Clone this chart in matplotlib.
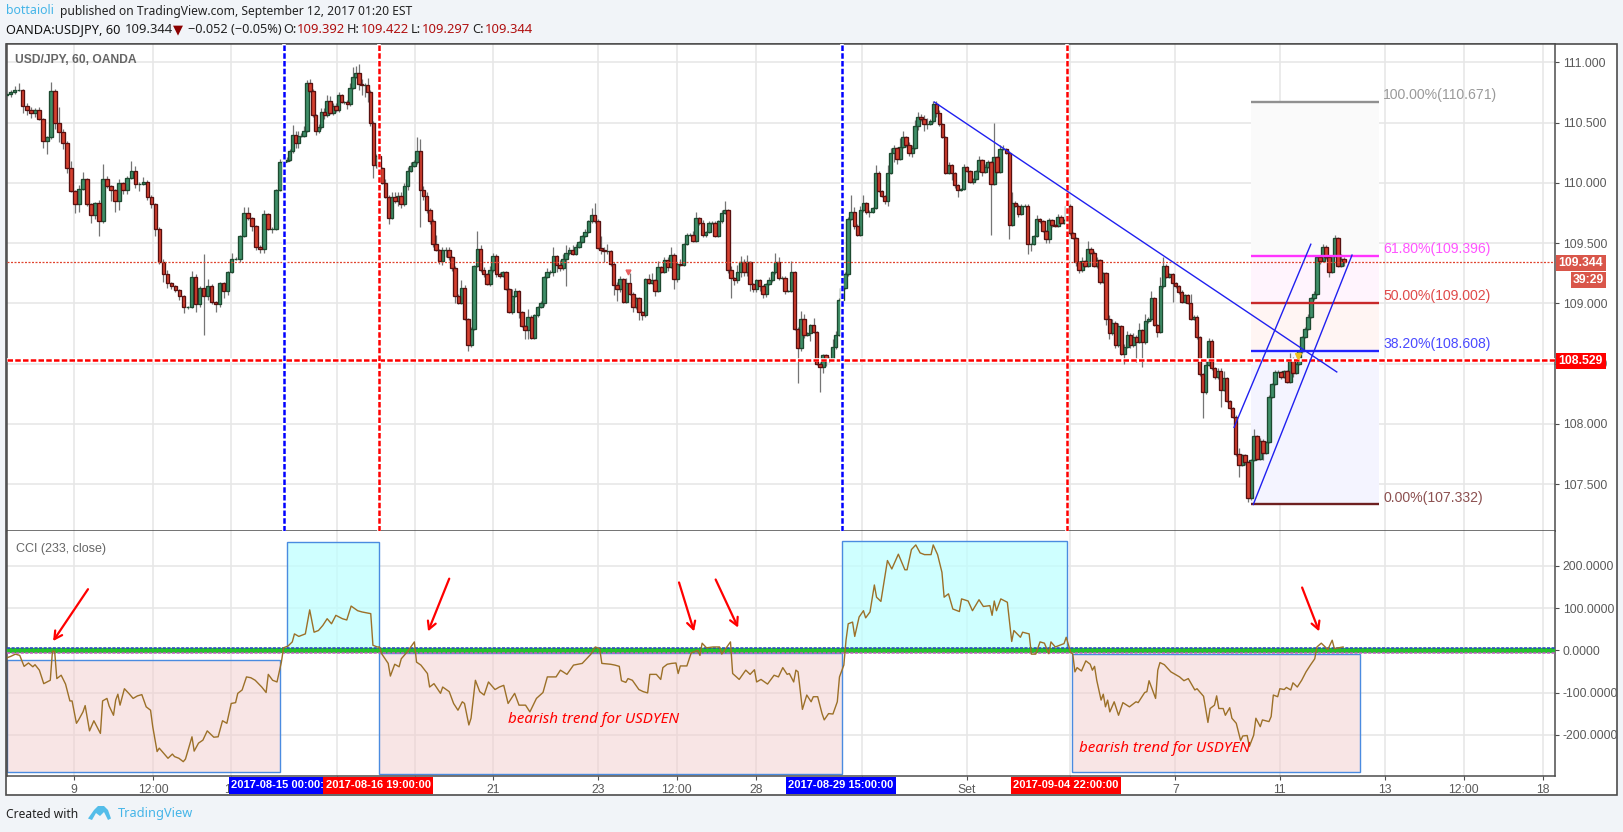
import numpy as np
import matplotlib
matplotlib.use('Agg')
import matplotlib.pyplot as plt
from matplotlib.patches import Rectangle, Polygon

W, H = 1623, 832
plt.rcParams['font.family'] = ['Liberation Sans', 'DejaVu Sans']

# hourly position of the session anchors (the four vertical markers)
seg_edges = [0, 127.2, 170.8, 383.2, 486.4, 613.5]

# closes, upper wick and lower wick (hundredths of a yen), one group per stretch
close_1 = [110.74,110.75,110.77,110.77,110.64,110.60,110.58,110.60,110.53,110.35,
    110.38,110.76,110.50,110.42,110.33,110.12,109.93,109.82,109.95,110.03,
    109.82,109.73,109.83,109.68,110.03,109.97,109.94,109.85,110.00,109.94,
    110.04,110.10,109.99,109.99,110.01,109.88,109.82,109.62,109.34,109.24,
    109.17,109.14,109.11,109.06,108.97,108.97,109.22,108.99,109.13,109.06,
    109.14,109.01,108.99,109.17,109.10,109.26,109.37,109.37,109.56,109.75,
    109.71,109.64,109.47,109.45,109.74,109.62,109.62,109.94,110.17]
up_1 = [2,2,3,6,1,2,3,2,3,1, 1,8,2,13,3,2,6,1,3,6, 1,1,1,3,13,3,1,1,3,1, 2,8,4,2,4,1,2,1,1,3,
    4,1,1,1,1,1,5,2,1,28, 6,2,1,1,1,1,5,1,1,5, 5,1,1,1,3,1,1,1,3]
dn_1 = [2,3,1,1,6,4,4,3,1,6, 11,2,5,8,5,4,1,7,6,1, 1,6,3,12,1,1,9,9,8,3, 3,1,3,6,1,2,3,6,1,6,
    4,2,2,3,5,2,1,6,2,32, 3,2,6,2,6,3,1,1,3,1, 2,4,3,3,3,1,4,1,1]

close_2 = [110.18,110.19,110.26,110.40,110.33,110.39,110.39,110.43,110.83,110.76,
    110.56,110.43,110.46,110.59,110.56,110.68,110.58,110.64,110.60,110.73,
    110.67,110.67,110.65,110.79,110.88,110.91,110.82,110.81,110.81,110.75,
    110.50,110.15,110.22]
up_2 = [2,2,2,8,3,4,2,4,2,3, 2,1,3,3,3,5,4,2,2,2, 1,1,2,4,8,6,8,4,2,6, 2,1,2]
dn_2 = [1,1,1,1,4,4,1,1,1,1, 1,3,2,1,3,1,1,2,1,1, 1,2,4,1,1,1,5,8,10,8, 3,11,3]

close_3 = [110.12,110.00,109.88,109.71,109.88,109.85,109.89,109.82,109.97,110.10,
    110.14,110.17,110.26,109.94,109.89,109.77,109.68,109.49,109.44,109.35,
    109.44,109.44,109.38,109.29,109.06,109.00,109.13,108.87,108.65,108.79,
    109.31,109.45,109.28,109.24,109.16,109.28,109.39,109.24,109.23,109.26,
    109.12,108.93,109.06,109.10,108.93,108.81,108.78,108.89,108.71,108.90,
    108.97,109.00,109.22,109.26,109.26,109.39,109.32,109.29,109.37,109.42,
    109.44,109.41,109.47,109.51,109.56,109.59,109.68,109.73,109.68,109.46,
    109.44,109.43,109.43,109.33,109.15,109.12,109.20,109.01,109.17,109.08,
    108.97,109.04,108.93,108.90,109.20,109.17,109.19,109.10,109.30,109.26,
    109.36,109.30,109.40,109.20,109.33,109.32,109.49,109.57,109.57,109.52,
    109.71,109.67,109.57,109.59,109.67,109.67,109.56,109.68,109.75,109.77,
    109.28,109.21,109.19,109.26,109.34,109.26,109.34,109.16,109.12,109.19,
    109.14,109.08,109.16,109.19,109.26,109.34,109.21,109.21,109.10,109.10,
    109.26,108.79,108.63,108.87,108.74,108.75,108.82,108.76,108.50,108.47,
    108.57,108.54,108.54,108.64,108.74,109.03]
up_3 = [1,1,3,2,4,4,3,3,3,3, 3,2,12,10,3,3,2,2,8,1, 3,3,3,1,2,2,6,2,1,1, 1,15,3,2,1,3,3,2,2,1,
    1,1,6,3,1,1,1,6,1,1, 1,2,1,3,2,8,1,4,4,6, 3,4,2,1,1,3,1,6,10,2, 10,3,6,1,1,3,3,1,4,8,
    1,1,1,1,1,4,6,1,5,1, 2,2,7,2,1,4,1,1,1,3, 5,1,2,1,1,1,1,1,2,8, 1,3,1,6,5,3,6,1,1,1,
    1,1,1,3,1,8,4,2,2,1, 9,1,1,7,4,1,1,6,1,1, 1,1,1,6,3,1]
dn_3 = [1,1,1,5,1,2,4,3,1,3, 1,1,1,31,3,2,2,2,1,2, 3,6,2,2,6,1,1,1,5,1, 1,1,2,2,1,2,2,2,2,1,
    1,1,2,1,5,1,8,8,1,1, 1,1,2,1,2,3,6,2,1,23, 2,1,1,1,1,1,1,1,1,1, 3,9,2,2,8,10,3,1,1,1,
    4,2,7,4,1,1,1,4,1,1, 1,3,1,8,2,1,1,1,1,1, 1,2,2,2,1,1,1,1,1,1, 3,17,4,2,4,3,3,6,3,3,
    4,4,3,1,1,2,2,1,2,1, 1,1,29,3,3,1,6,1,1,21, 5,6,3,1,2,1]

close_4 = [109.13,109.24,109.70,109.76,109.64,109.57,109.77,109.83,109.76,109.76,
    109.79,110.08,109.93,109.89,109.85,110.08,110.25,110.29,110.20,110.30,
    110.38,110.31,110.25,110.29,110.47,110.55,110.53,110.49,110.49,110.51,
    110.65,110.58,110.49,110.38,110.08,110.15,110.08,109.98,109.94,109.95,
    110.13,110.10,110.01,110.03,110.10,110.19,110.09,110.13,110.17,109.99,
    110.21,110.09,110.28,110.28,110.25,109.65,109.83,109.81,109.74,109.81,
    109.81,109.49,109.49,109.56,109.70,109.68,109.60,109.53,109.69,109.65,
    109.64,109.72,109.67,109.69]
up_4 = [1,2,2,14,4,2,4,7,1,1, 1,7,2,1,1,7,4,2,1,7, 5,1,3,2,5,4,2,3,5,2, 3,3,2,1,1,2,1,1,1,1,
    3,1,1,1,1,3,1,3,2,1, 29,1,3,3,1,1,9,2,1,1, 1,1,1,1,3,1,1,1,2,1, 1,2,1,1]
dn_4 = [2,1,1,1,2,1,1,1,2,4, 1,1,1,1,3,4,1,8,4,1, 1,1,3,4,1,3,2,6,4,1, 1,3,2,1,1,1,6,2,6,1,
    1,1,1,2,1,1,3,1,1,42, 1,1,1,1,1,12,1,1,2,1, 1,8,6,1,1,1,1,3,3,2, 1,1,1,1]

close_5 = [109.81,109.58,109.54,109.34,109.28,109.35,109.31,109.45,109.42,109.31,
    109.36,109.18,109.25,108.87,108.75,108.84,108.65,108.81,108.58,108.64,
    108.74,108.65,108.72,108.68,108.78,108.68,108.85,108.87,109.04,108.82,
    108.76,109.14,109.31,109.22,109.24,109.17,109.14,109.09,109.01,109.07,
    109.00,108.87,108.89,108.72,108.41,108.26,108.49,108.69,108.46,108.39,
    108.44,108.28,108.38,108.19,108.13,108.06,107.75,107.66,107.74,107.68,
    107.38,107.70,107.90,107.71,107.86,107.76,107.85,108.22,108.33,108.43,
    108.43,108.39,108.44,108.35,108.53,108.42,108.50,108.60,108.72,108.79,
    108.89,109.04,109.08,109.38,109.35,109.47,109.38,109.26,109.39,109.54,
    109.31,109.37,109.34]
up_5 = [10,1,1,1,1,3,1,7,2,1, 2,1,1,1,3,3,1,3,1,2, 3,1,3,2,6,1,6,2,6,1, 1,8,7,2,1,1,1,1,2,1,
    1,8,1,1,1,1,4,2,1,1, 2,2,6,1,1,1,1,5,1,1, 1,1,6,1,2,1,1,2,1,2, 2,1,1,1,6,2,1,1,1,1,
    2,1,2,1,1,2,1,1,1,3, 1,4,1]
dn_5 = [1,1,1,3,3,2,1,1,1,1, 2,2,1,5,5,1,2,1,1,8, 1,2,1,17,1,21,2,1,2,1, 4,1,1,1,1,16,1,1,1,1,
    1,1,1,2,1,21,1,1,1,2, 2,14,1,1,1,1,2,10,1,2, 3,1,1,1,1,6,1,1,1,1, 1,2,1,1,1,3,1,1,1,1,
    1,1,1,1,2,1,1,4,1,1, 1,1,3]

# CCI (233, close)
cci_hours = [0,2,4,6,8,10,12,13,15,17,20,21,22,23,25,27,29,30,32,33,35,36,38,40,43,44,46,47,49,50,
    51,52,54,56,58,60,62,64,66,67,69,70,72,74,76,77,79,81,82,85,86,88,90,92,95,97,99,101,103,105,
    106,108,110,112,114,117,119,120,122,124,126,127,129,131,132,134,137,139,141,143,145,147,149,151,154,156,158,161,163,167,
    168,170,171,172,175,176,178,180,181,184,187,188,190,193,194,196,199,200,203,205,207,209,210,212,213,215,217,219,221,224,
    226,228,230,233,235,238,240,243,246,248,252,254,257,260,264,266,268,270,272,273,277,279,281,282,284,285,287,290,292,294,
    295,298,300,301,303,305,307,308,309,312,314,317,318,319,321,324,327,328,332,333,336,339,341,343,344,346,349,352,354,356,
    358,359,361,362,363,365,367,369,370,372,374,375,377,379,381,382,384,385,386,388,389,391,393,394,396,398,399,401,404,406,
    409,412,413,415,417,419,421,424,425,427,429,430,432,434,437,438,441,443,446,448,451,452,453,454,456,459,461,462,465,466,
    469,470,472,474,476,478,479,481,483,485,486,488,489,490,491,493,495,497,498,499,500,502,503,504,505,506,508,510,512,515,
    518,519,522,523,524,527,528,529,531,534,538,540,542,545,546,549,551,552,554,555,556,558,559,561,562,564,566,567,569,570,
    572,573,575,576,579,580,581,583,584,586,587,589,590,592,594,596,598,600,601,603,606,608,609,613]
cci_values = [-18,-14,-9,-12,-38,-30,-39,-34,-47,-79,-71,-2,-2,-67,-59,-80,-120,-120,-173,-165,-146,-131,-191,-167,-197,-120,-114,-132,-154,-118,
    -104,-130,-91,-102,-114,-108,-105,-134,-142,-181,-240,-232,-244,-256,-246,-252,-256,-264,-258,-205,-239,-220,-213,-191,-206,-205,-167,-173,-126,-124,
    -102,-94,-63,-65,-71,-87,-100,-57,-71,-75,-28,6,10,20,39,33,39,96,43,47,59,75,63,83,75,72,105,94,91,87,
    12,8,8,-8,-31,-61,-33,-39,-20,-2,20,-28,-35,-55,-87,-79,-102,-87,-98,-126,-142,-122,-126,-177,-161,-71,-98,-106,-75,-93,
    -87,-83,-126,-102,-130,-130,-146,-114,-100,-63,-63,-47,-57,-35,-31,-20,-9,8,4,-31,-33,-35,-38,-72,-76,-67,-71,-93,-98,-101,
    -57,-57,-69,-41,-33,-31,-30,-55,-37,-37,-6,0,-12,17,6,8,8,-9,20,-55,-69,-47,-57,-46,-75,-69,-80,-59,-63,-41,
    -57,-55,-75,-47,-51,-140,-106,-122,-110,-110,-150,-165,-150,-151,-122,-63,-35,24,63,67,33,79,94,77,91,155,126,116,213,193,
    228,191,191,239,250,231,227,227,250,227,185,126,134,98,92,122,117,94,120,104,106,83,117,94,122,114,21,47,31,43,
    39,-9,-9,20,17,-8,20,8,12,16,31,-4,-9,-51,-41,-49,-25,-33,-47,-38,-71,-118,-104,-134,-118,-146,-122,-154,-124,-134,
    -122,-124,-100,-98,-72,-114,-47,-29,-34,-51,-63,-72,-67,-94,-91,-109,-171,-138,-130,-108,-138,-138,-154,-136,-161,-173,-214,-203,-202,-228,
    -201,-161,-181,-165,-169,-157,-106,-110,-91,-93,-88,-94,-77,-87,-71,-51,-35,-20,8,17,2,24,4,8]

marker_hours = [127.2, 170.8, 383.2, 486.4]
marker_labels = ['2017-08-15 00:00:00', '2017-08-16 19:00:00', '2017-08-29 15:00:00', '2017-09-04 22:00:00']
grid_hours = [31, 67.3, 103, 151.4, 187.3, 223, 271.2, 307.4, 343.7, 392.3, 440.5, 487.8, 536.1, 584, 632.2, 668.4, 704.6]
grid_labels = ['9', '12:00', '14', '', '', '21', '23', '12:00', '28', '', 'Set', '', '7', '11', '13', '12:00', '18']
price_ticks = [111.0, 110.5, 110.0, 109.5, 109.0, 108.5, 108.0, 107.5]
cci_ticks = [200, 100, 0, -100, -200]

fib_prices = [110.671, 109.396, 109.002, 108.608, 107.332]
fib_names = ['100.00%(110.671)', '61.80%(109.396)', '50.00%(109.002)', '38.20%(108.608)', '0.00%(107.332)']
fib_colors = ['#909090', '#ff33ff', '#c82828', '#2222ff', '#6e2020']
fib_text = ['#9a9a9a', '#ff55ff', '#e04a4a', '#4a4aff', '#8c5050']
fib_fills = ['#fafafa', '#fff4fd', '#fff5f3', '#f4f4ff']
fib_span = [570.9, 629.4]

last_price = 109.344
support = 108.529

closes = [close_1, close_2, close_3, close_4, close_5]
ups = [up_1, up_2, up_3, up_4, up_5]
dns = [dn_1, dn_2, dn_3, dn_4, dn_5]

BG = '#f1f4f8'
GRID = '#e6e6e6'
fig = plt.figure(figsize=(W / 100, H / 100), dpi=100, facecolor=BG)


def px_box(x0, y0, x1, y1):
    return [x0 / W, 1 - y1 / H, (x1 - x0) / W, (y1 - y0) / H]


def fig_rect(x0, y0, x1, y1, **kw):
    b = px_box(x0, y0, x1, y1)
    fig.patches.append(Rectangle((b[0], b[1]), b[2], b[3], transform=fig.transFigure, **kw))


def fig_text(x, y, s, **kw):
    kw.setdefault('va', 'center')
    return fig.text(x / W, 1 - y / H, s, **kw)


fig_rect(6.4, 43.5, 1616.6, 795, facecolor='white', edgecolor='#4d4d4d', lw=1.2, zorder=-1)

ax = fig.add_axes(px_box(6.67, 43.5, 1555, 531))
ax2 = fig.add_axes(px_box(6.67, 531, 1555, 776), sharex=ax)
x_max = 710.2
for a in (ax, ax2):
    a.set_xlim(0, x_max)
    a.set_facecolor('white')
    a.set_axisbelow(True)
    a.yaxis.tick_right()
    for s in ('top', 'left', 'right', 'bottom'):
        a.spines[s].set_color('#4d4d4d')
        a.spines[s].set_linewidth(1.1)
    a.set_xticks(grid_hours)
    a.grid(True, color=GRID, lw=1.1)
    a.tick_params(axis='y', length=3, color='#4d4d4d', labelcolor='#5a5a5a', labelsize=8.8, pad=2.5)
ax2.spines['top'].set_visible(False)
ax.set_ylim(107.11, 111.156)
ax2.set_ylim(-298, 283)
ax.set_yticks(price_ticks)
ax.set_yticklabels(['%.3f' % p for p in price_ticks])
ax.tick_params(axis='x', length=0, labelbottom=False)
ax2.set_yticks(cci_ticks)
ax2.set_yticklabels(['%.4f' % c for c in cci_ticks])
ax2.set_xticklabels(grid_labels)
ax2.tick_params(axis='x', length=3, color='#4d4d4d', labelcolor='#5a5a5a', labelsize=8.8, pad=3)

# fib retracement
for i in range(4):
    ax.fill_between(fib_span, fib_prices[i + 1], fib_prices[i], color=fib_fills[i], lw=0, zorder=1)
for p, n, c, t in zip(fib_prices, fib_names, fib_colors, fib_text):
    ax.plot(fib_span, [p, p], color=c, lw=1.7, zorder=6, solid_capstyle='butt')
    ax.annotate(n, (fib_span[1], p), xytext=(3.2, 4.8), textcoords='offset points', va='center',
                color=t, fontsize=10.1, zorder=7)

# candles
opens = []
hours = []
close_all = []
up_all = []
dn_all = []
prev = close_1[0] - 0.01
for i in range(5):
    c = closes[i]
    hrs = np.linspace(seg_edges[i], seg_edges[i + 1], len(c), endpoint=i == 4)
    o = [prev] + list(c[:-1])
    prev = c[-1]
    opens += o
    hours += list(hrs)
    close_all += list(c)
    up_all += list(ups[i])
    dn_all += list(dns[i])
    assert len(c) == len(ups[i]) == len(dns[i]), (i, len(c), len(ups[i]), len(dns[i]))
opens = np.array(opens)
close_all = np.array(close_all)
hours = np.array(hours)
top = np.maximum(opens, close_all)
bot = np.minimum(opens, close_all)
high = top + np.array(up_all) / 100
low = bot - np.array(dn_all) / 100
rising = close_all >= opens
ax.vlines(hours, low, high, color='#757575', lw=0.9, zorder=3)
ax.bar(hours[rising], (top - bot)[rising], bottom=bot[rising], width=1.6, color='#3f8f68',
       edgecolor='#1d4a30', lw=0.95, zorder=4)
ax.bar(hours[~rising], (top - bot)[~rising], bottom=bot[~rising], width=1.6, color='#d5402f',
       edgecolor='#571010', lw=0.95, zorder=4)

# price lines
ax.axhline(last_price, color='#e0442f', lw=0.9, ls=(0, (1.6, 1.2)), zorder=5)
ax.axhline(support, color='white', lw=2.6, zorder=5)
ax.axhline(support, color='#ff0000', lw=1.8, ls=(0, (2.2, 0.9)), zorder=5)
for h, c in zip(marker_hours, ['#0000ff', '#ff0000', '#0000ff', '#ff0000']):
    ax.axvline(h, color='white', lw=2.6, zorder=5)
    ax.axvline(h, color=c, lw=1.8, ls=(0, (2.2, 0.9)), zorder=5)

# trend lines
ax.plot([425.5, 610.1], [110.67, 108.43], color='#2020f0', lw=1.0, zorder=6)
ax.plot([563, 598.2], [107.97, 109.49], color='#2020f0', lw=1.0, zorder=6)
ax.plot([571.8, 617.1], [107.33, 109.40], color='#2020f0', lw=1.0, zorder=6)
ax.plot([592.5], [108.56], marker='v', ms=4, color='#f0c020', zorder=7)
ax.plot([284.9], [109.26], marker='v', ms=3.5, color='#e86060', zorder=7)

ax.text(0.0054, 0.9665, 'USD/JPY, 60, OANDA', transform=ax.transAxes, color='#666666',
        fontsize=8.7, fontweight='bold', va='center')
ax2.text(0.0058, 0.926, 'CCI (233, close)', transform=ax2.transAxes, color='#666666',
         fontsize=9, va='center')

# regions drawn on the CCI pane
pink_boxes = [(0, 125.5, -289, -24), (170.8, 383.2, -294, -6), (488.7, 620.8, -289, -9)]
cyan_boxes = [(128.8, 170.8, 0, 256), (383.2, 486.4, 0, 259)]
for x0, x1, y0, y1 in pink_boxes:
    ax2.add_patch(Rectangle((x0, y0), x1 - x0, y1 - y0, facecolor='#f2cccc', alpha=0.5, edgecolor='none', zorder=1))
    ax2.add_patch(Rectangle((x0, y0), x1 - x0, y1 - y0, fill=False, edgecolor='#4a8be0', lw=1.0, zorder=2))
for x0, x1, y0, y1 in cyan_boxes:
    ax2.add_patch(Rectangle((x0, y0), x1 - x0, y1 - y0, facecolor='#c0ffff', alpha=0.75, edgecolor='none', zorder=1))
    ax2.add_patch(Rectangle((x0, y0), x1 - x0, y1 - y0, fill=False, edgecolor='#4a8be0', lw=1.0, zorder=2))

ax2.axhline(0, color='#24c02c', lw=3.8, zorder=3)
ax2.axhline(6, color='#2840c8', lw=1.1, ls=(0, (2, 1)), zorder=3)
ax2.axhline(-7, color='#c858c8', lw=1.1, ls=(0, (2, 1)), zorder=3)
ax2.plot(cci_hours, cci_values, color='#9c7028', lw=1.0, zorder=4)

arrow_tails = [(37.3, 145), (203, 170), (308.4, 161), (325.2, 168), (594.2, 149)]
arrow_heads = [(21.3, 22), (193.3, 45), (315.3, 45), (335.5, 54), (602, 45)]
for t, h in zip(arrow_tails, arrow_heads):
    ax2.annotate('', xy=h, xytext=t, zorder=5,
                 arrowprops=dict(arrowstyle='->,head_length=0.55,head_width=0.3', color='#ff0000', lw=1.6,
                                 shrinkA=0, shrinkB=0))

for h, v in [(230, -163), (492, -232)]:
    ax2.text(h, v, 'bearish trend for USDYEN', color='#ff0000', fontsize=10.9, style='italic',
             fontweight='bold', family=['Noto Sans', 'DejaVu Sans'], va='center', zorder=6)

# header
sans = ['Noto Sans', 'DejaVu Sans']
fig_text(6.4, 11, 'bottaioli', color='#45b5e8', fontsize=8.9, family=sans)
fig_text(60, 11, 'published on TradingView.com, September 12, 2017 01:20 EST', color='#222222', fontsize=8.7, family=sans)
fig_text(6.4, 29.3, 'OANDA:USDJPY, 60', color='#111111', fontsize=9.2, fontweight='bold', family=sans)
fig_text(125, 29.3, '109.344', color='#222222', fontsize=9.4, family=sans)
fig_text(173, 29.6, '\u25bc', color='#8b0000', fontsize=9.4, family=['DejaVu Sans'])
fig_text(187.5, 29.3, '\u22120.052 (\u22120.05%)', color='#222222', fontsize=9.2, family=sans)
for x, lab, x2, val in [(283, 'O:', 297, '109.392'), (347, 'H:', 361, '109.422'),
                        (411, 'L:', 422, '109.297'), (472, 'C:', 485, '109.344')]:
    fig_text(x, 29.3, lab, color='#222222', fontsize=9.2, fontweight='bold', family=sans)
    fig_text(x2, 29.3, val, color='#b01010', fontsize=9.4, family=sans)

# axis flags
fig_rect(1555.7, 255, 1606, 270.7, facecolor='#d9564a', edgecolor='none', zorder=3)
fig_text(1580.8, 263, '109.344', color='white', fontsize=8.8, fontweight='bold', ha='center', zorder=4)
fig_rect(1571, 272, 1606, 288, facecolor='#d9564a', edgecolor='none', zorder=3)
fig_text(1588.5, 280, '39:29', color='white', fontsize=8.8, fontweight='bold', ha='center', zorder=4)
fig_rect(1555.7, 353, 1606, 368.7, facecolor='#ff0000', edgecolor='none', zorder=3)
fig_text(1580.8, 361, '108.529', color='white', fontsize=8.8, fontweight='bold', ha='center', zorder=4)

date_boxes = [(229, 323.5, '#0000ff'), (323, 433, '#ff0000'), (786, 896, '#0000ff'), (1011, 1121, '#ff0000')]
for (x0, x1, c), lab, cx in zip(date_boxes, marker_labels, [284, 378, 841, 1066]):
    fig_rect(x0, 777, x1, 794.4, facecolor=c, edgecolor='none', zorder=3)
    t = fig_text(cx, 785.5, lab, color='white', fontsize=8.0, fontweight='bold', ha='center', zorder=4)
    if x1 == 323.5:
        t.set_clip_on(True)
        t.set_clip_path(Rectangle((x0, 0), x1 - x0, H, transform=None))

# footer
fig_text(6.5, 814, 'Created with', color='#222222', fontsize=8.7, fontweight='bold', family=sans)
fig_text(118, 814, 'TradingView', color='#45b5e8', fontsize=9.2, family=sans)
logo = [(88, 818.5), (94, 810), (98, 806), (104, 806), (108, 810), (111, 818.5), (108, 820), (104, 812), (100, 816),
        (96, 813), (92, 820)]
fig.patches.append(Polygon([(x / W, 1 - y / H) for x, y in logo], closed=True, transform=fig.transFigure,
                           facecolor='#54bde9', edgecolor='none'))

fig.savefig('out.png', dpi=100, facecolor=BG)
